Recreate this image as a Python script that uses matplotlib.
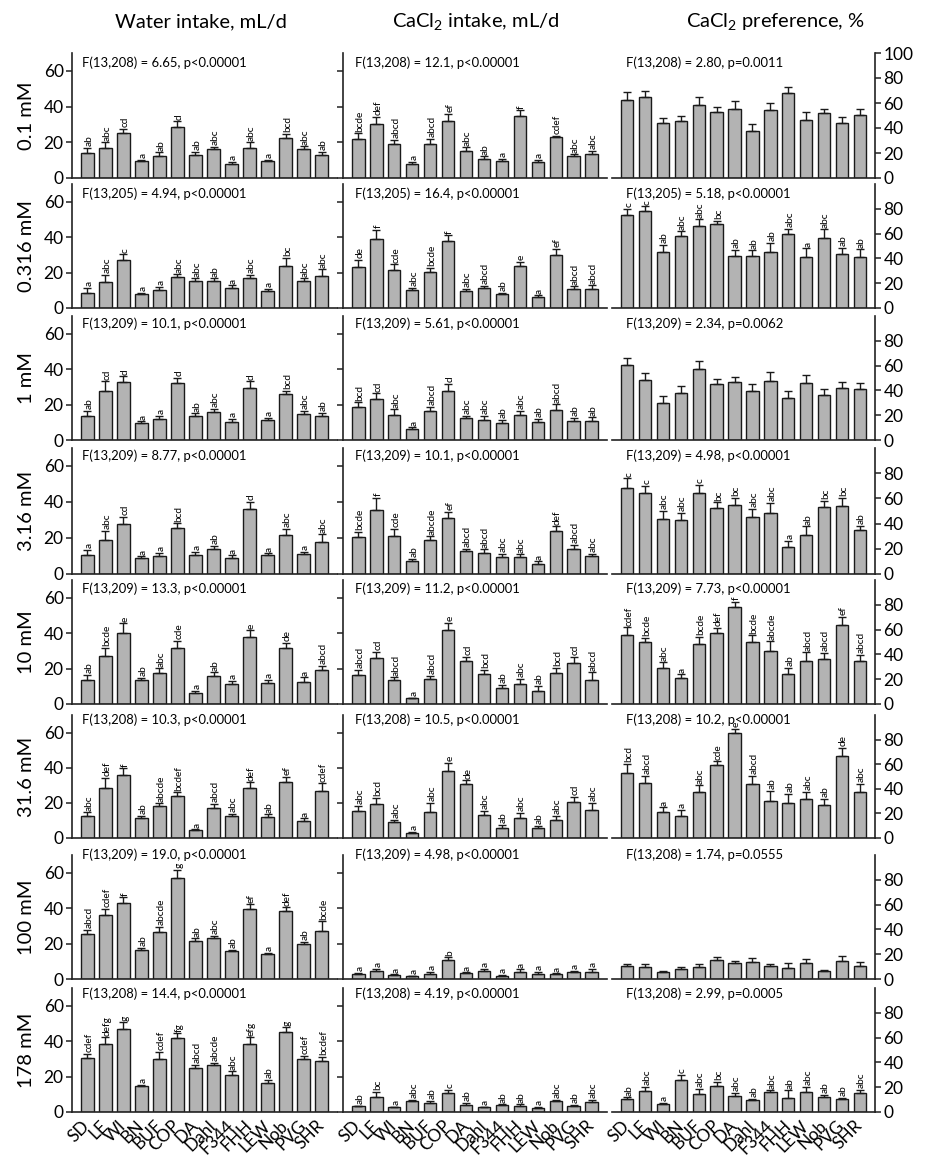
import matplotlib
matplotlib.use("Agg")
import matplotlib.pyplot as plt
import numpy as np

plt.rcParams['font.family'] = ['Lato', 'DejaVu Sans']
plt.rcParams['mathtext.fontset'] = 'custom'
plt.rcParams['mathtext.rm'] = 'Lato'
plt.rcParams['mathtext.it'] = 'Lato:italic'

strains = ["SD", "LE", "WI", "BN", "BUF", "COP", "DA", "Dahl", "F344", "FHH", "LEW", "Nob", "PVG", "SHR"]
concentrations = ["0.1 mM", "0.316 mM", "1 mM", "3.16 mM", "10 mM", "31.6 mM", "100 mM", "178 mM"]
col_titles = ["Water intake, mL/d", r"CaCl$_2$ intake, mL/d", r"CaCl$_2$ preference, %"]

# water intake, mL/d (mean, SEM), one row per concentration
water_mean = [
    [13.9, 16.9, 25.3, 9.3, 12.6, 28.3, 13.0, 16.4, 8.0, 16.7, 9.3, 22.3, 16.0, 13.0],
    [8.7, 14.9, 27.1, 7.8, 10.2, 17.7, 15.3, 15.3, 11.2, 16.8, 9.7, 23.7, 15.3, 18.1],
    [13.6, 27.4, 32.6, 9.7, 11.7, 32.0, 13.8, 16.0, 10.4, 29.4, 11.4, 25.7, 14.9, 13.8],
    [10.5, 19.1, 27.8, 9.0, 9.9, 25.7, 10.5, 13.7, 9.0, 36.0, 10.5, 21.6, 10.9, 18.0],
    [13.8, 27.3, 40.2, 13.5, 17.4, 31.4, 6.4, 15.7, 11.4, 37.6, 12.0, 31.4, 12.5, 19.3],
    [12.7, 28.4, 35.9, 11.5, 18.1, 24.0, 4.3, 16.8, 12.5, 28.4, 11.9, 31.8, 9.5, 26.5],
    [25.4, 35.9, 42.7, 16.2, 26.7, 56.8, 21.6, 23.1, 16.0, 39.3, 14.1, 38.2, 19.7, 27.3],
    [30.4, 38.3, 47.1, 14.6, 29.8, 41.5, 25.0, 26.3, 21.0, 38.3, 16.5, 45.0, 30.2, 28.9],
]
water_sem = [
    [3.0, 3.0, 2.4, 0.9, 1.7, 3.5, 1.7, 0.9, 1.1, 3.2, 0.9, 2.6, 1.7, 1.7],
    [2.5, 3.8, 3.2, 0.9, 1.7, 1.3, 1.5, 1.4, 1.6, 1.9, 1.3, 4.7, 1.5, 3.8],
    [2.8, 5.7, 3.3, 0.9, 1.9, 3.0, 1.3, 1.5, 1.5, 3.7, 1.3, 2.0, 1.7, 1.5],
    [2.8, 4.7, 3.9, 0.9, 1.9, 2.4, 1.7, 1.9, 1.3, 4.0, 0.9, 3.4, 1.5, 4.0],
    [2.5, 4.5, 5.4, 1.1, 2.8, 4.1, 0.9, 2.1, 1.7, 3.9, 1.5, 3.0, 2.5, 2.2],
    [2.0, 6.0, 3.8, 1.0, 1.7, 1.9, 0.6, 2.5, 1.3, 3.2, 1.5, 3.2, 1.7, 4.7],
    [2.2, 3.8, 3.4, 1.5, 2.8, 4.7, 1.3, 1.1, 0.5, 2.8, 0.7, 2.2, 1.4, 5.2],
    [2.4, 3.9, 3.6, 0.6, 4.2, 3.0, 1.5, 1.3, 1.9, 3.9, 1.5, 2.8, 1.5, 2.2],
]
water_groups = [
    "ab abc cd a ab d ab abc a abc a bcd abc ab",
    "a abc c a a abc abc ab a abc a bc abc abc",
    "ab cd d a a d ab abc a d a bcd abc ab",
    "a abc cd a a bcd a ab a d a abc a abc",
    "ab bcde e ab abc cde a ab a e a de a abcd",
    "abc def f ab abcde bcdef a abcd abc def ab ef a cdef",
    "abcd cdef f ab abcde g ab abc ab ef a def ab bcde",
    "cdef defg g a cdef fg abcd abcde abc efg ab g cdef bcdef",
]
water_stats = [
    "F(13,208) = 6.65, p<0.00001", "F(13,205) = 4.94, p<0.00001",
    "F(13,209) = 10.1, p<0.00001", "F(13,209) = 8.77, p<0.00001",
    "F(13,209) = 13.3, p<0.00001", "F(13,208) = 10.3, p<0.00001",
    "F(13,209) = 19.0, p<0.00001", "F(13,208) = 14.4, p<0.00001",
]

# CaCl2 intake, mL/d
cacl_mean = [
    [22.1, 30.2, 19.3, 8.1, 18.8, 31.7, 15.4, 10.7, 9.8, 34.5, 8.8, 22.9, 12.2, 13.5],
    [23.4, 38.8, 21.3, 10.0, 20.5, 37.6, 9.7, 11.2, 7.8, 23.7, 6.3, 29.7, 11.0, 11.0],
    [18.7, 23.0, 14.3, 6.2, 16.4, 27.7, 12.6, 11.5, 9.6, 14.2, 10.0, 17.0, 10.8, 10.9],
    [20.8, 35.6, 21.2, 7.3, 18.8, 31.0, 12.6, 11.8, 9.6, 9.2, 5.4, 23.8, 14.1, 9.8],
    [16.4, 25.7, 13.4, 3.2, 14.0, 41.5, 24.3, 16.8, 8.9, 11.5, 7.5, 17.4, 23.0, 13.8],
    [15.4, 19.5, 9.0, 2.8, 15.0, 38.0, 31.0, 13.3, 5.6, 11.3, 5.6, 10.5, 20.3, 16.0],
    [3.0, 4.5, 2.3, 1.5, 3.0, 10.6, 3.4, 4.5, 1.9, 4.2, 2.8, 2.6, 3.8, 4.2],
    [3.2, 8.3, 2.6, 6.0, 5.1, 10.9, 4.0, 2.6, 3.8, 3.4, 2.5, 6.0, 3.4, 5.5],
]
cacl_sem = [
    [2.9, 4.1, 1.9, 1.1, 3.1, 4.3, 1.7, 1.5, 1.1, 3.4, 1.5, 0.9, 1.1, 1.9],
    [3.7, 5.2, 3.4, 1.2, 2.3, 3.4, 1.3, 1.3, 0.9, 2.3, 0.9, 3.8, 1.3, 1.8],
    [2.6, 3.4, 3.1, 1.0, 2.3, 4.0, 1.2, 2.1, 1.7, 2.4, 1.9, 3.2, 1.8, 1.9],
    [2.5, 6.6, 3.8, 1.3, 2.2, 3.7, 1.3, 1.9, 1.7, 1.7, 1.7, 2.7, 2.2, 1.5],
    [3.0, 3.7, 1.7, 0.4, 1.8, 4.5, 2.3, 2.6, 1.9, 2.7, 2.7, 3.2, 3.8, 4.1],
    [3.0, 3.2, 1.5, 0.6, 5.1, 4.9, 1.9, 2.3, 1.9, 3.0, 1.4, 2.3, 3.0, 3.9],
    [0.6, 1.2, 0.3, 0.2, 1.2, 1.7, 0.4, 1.3, 0.4, 1.3, 1.2, 0.6, 0.9, 1.6],
    [0.4, 3.0, 0.4, 1.0, 1.3, 1.7, 1.1, 0.4, 0.5, 0.9, 0.3, 0.8, 0.6, 1.5],
]
cacl_groups = [
    "bcde def abcd a abcd ef abc ab a f a cdef abc abc",
    "de f cde abc bcde f abc abcd ab e a ef abcd abcd",
    "bcd cd abc a abcd d abc abc ab abc ab abcd ab ab",
    "bcde f cde ab abcde ef abcd abcd abc abc a def abcd abc",
    "abcd cd abcd a abcd e cd bcd ab abc ab bcd cd abcd",
    "abc bcd abc a abc e de abc ab abc ab abc cd abc",
    "a a a a a b a a a a a a a a",
    "ab bc a abc ab c ab a ab ab a abc ab abc",
]
cacl_stats = [
    "F(13,208) = 12.1, p<0.00001", "F(13,205) = 16.4, p<0.00001",
    "F(13,209) = 5.61, p<0.00001", "F(13,209) = 10.1, p<0.00001",
    "F(13,209) = 11.2, p<0.00001", "F(13,208) = 10.5, p<0.00001",
    "F(13,209) = 4.98, p<0.00001", "F(13,208) = 4.19, p<0.00001",
]

# CaCl2 preference, %
pref_mean = [
    [62.7, 64.8, 44.3, 45.6, 58.4, 52.5, 55.2, 37.9, 54.7, 68.3, 46.7, 51.7, 43.7, 50.4],
    [74.7, 77.9, 45.1, 57.9, 66.4, 67.5, 41.9, 41.9, 45.3, 59.5, 41.1, 56.8, 43.5, 41.3],
    [60.3, 48.5, 30.0, 38.1, 57.6, 45.0, 46.9, 39.9, 47.7, 33.5, 46.1, 36.2, 41.6, 41.0],
    [68.6, 64.0, 43.7, 43.2, 64.0, 52.3, 54.9, 45.6, 48.8, 21.6, 31.2, 52.8, 53.6, 35.2],
    [56.0, 49.7, 29.2, 20.8, 48.1, 57.4, 78.1, 50.0, 42.6, 23.8, 35.0, 36.1, 63.7, 35.0],
    [53.0, 44.6, 21.1, 17.6, 37.6, 59.5, 85.7, 44.1, 30.0, 28.6, 31.9, 26.5, 66.5, 37.0],
    [10.5, 9.7, 5.7, 8.1, 9.7, 15.4, 13.2, 13.8, 10.5, 9.2, 12.7, 6.8, 14.9, 10.3],
    [10.5, 16.7, 6.5, 25.8, 14.8, 21.2, 13.2, 9.7, 16.1, 11.3, 16.4, 11.8, 10.2, 15.1],
]
pref_sem = [
    [6.1, 4.8, 4.0, 4.3, 6.1, 4.3, 6.1, 5.3, 5.3, 4.8, 6.1, 3.5, 5.4, 4.8],
    [5.3, 4.2, 5.6, 4.0, 5.1, 2.9, 4.8, 4.5, 7.5, 4.5, 6.9, 6.7, 5.0, 5.9],
    [5.9, 5.7, 5.7, 5.1, 6.2, 4.1, 4.3, 5.1, 7.3, 5.9, 6.7, 4.6, 5.3, 5.1],
    [7.2, 6.1, 6.4, 5.1, 6.9, 4.5, 5.4, 5.9, 7.5, 4.5, 6.7, 5.3, 6.7, 2.9],
    [5.7, 3.9, 4.4, 3.2, 6.0, 4.1, 4.4, 5.5, 7.9, 5.2, 6.8, 5.2, 6.8, 4.9],
    [7.3, 6.2, 3.8, 5.4, 5.1, 2.9, 2.9, 6.4, 8.4, 7.1, 5.9, 5.1, 7.0, 6.8],
    [1.7, 2.5, 1.1, 1.9, 2.5, 2.2, 1.7, 3.0, 1.7, 3.5, 3.5, 0.8, 3.7, 3.2],
    [1.3, 3.7, 1.0, 4.0, 3.7, 3.3, 2.1, 1.1, 1.4, 6.2, 3.8, 2.2, 1.1, 2.9],
]
pref_groups = [
    None,
    "c c ab abc abc bc ab ab ab abc a abc ab ab",
    None,
    "c c abc abc c bc bc abc abc a ab bc bc ab",
    "cdef bcde abc a bcde def f bcde abcde ab abcd abcd ef abcd",
    "bcd abcd a a abc cde e abcd ab ab abc ab de abc",
    None,
    "ab abc a c abc bc abc ab abc ab abc ab ab abc",
]
pref_stats = [
    "F(13,208) = 2.80, p=0.0011", "F(13,205) = 5.18, p<0.00001",
    "F(13,209) = 2.34, p=0.0062", "F(13,209) = 4.98, p<0.00001",
    "F(13,209) = 7.73, p<0.00001", "F(13,208) = 10.2, p<0.00001",
    "F(13,208) = 1.74, p=0.0555", "F(13,208) = 2.99, p=0.0005",
]

# layout in pixels of the 927x1156 canvas
W, H = 927, 1156
col_px = [(72, 337), (343, 607), (612, 875)]
row_px = [(53, 178), (184, 308), (316, 440), (448, 574),
          (580, 704), (715, 838), (855, 979), (988, 1112)]
stat_x_px = [82, 355, 626]
stat_y_px = [63, 194, 324, 456, 589, 720, 855, 994]
title_x_px = [201, 476, 775]

BAR_COLOR = '#b3b3b3'
EDGE = '#1a1a1a'


def draw_panel(ax, means, sems, groups, col, first_row, bottom_row):
    x = np.arange(len(strains))
    means = np.asarray(means)
    sems = np.asarray(sems)
    ax.bar(x, means, width=0.7, color=BAR_COLOR, edgecolor=EDGE, linewidth=1.0, zorder=2)
    ax.errorbar(x, means, yerr=[np.zeros_like(sems), sems], fmt='none', ecolor=EDGE,
                elinewidth=1.0, capsize=2.6, capthick=1.0, zorder=3)
    if groups:
        for xi, top, g in zip(x, means + sems, groups.split()):
            ax.annotate(g, (xi, top), xytext=(1.2, 1.2), textcoords='offset points',
                        rotation=90, ha='center', va='bottom', fontsize=7.3)

    ax.set_xlim(-0.85, 13.85)
    if col < 2:
        ax.set_ylim(0, 70)
        ax.set_yticks([0, 20, 40, 60])
        ax.spines['right'].set_visible(False)
    else:
        ax.set_ylim(0, 100)
        ax.set_yticks([0, 20, 40, 60, 80, 100] if first_row else [0, 20, 40, 60, 80])
        ax.spines['left'].set_visible(False)
        ax.yaxis.tick_right()
    ax.spines['top'].set_visible(False)
    for s in ax.spines.values():
        s.set_linewidth(1.2)
        s.set_color('#222222')
    ax.tick_params(axis='y', direction='out', length=4, width=1.1, labelsize=12.5,
                   color='#222222', pad=2)
    if col == 1:
        ax.tick_params(axis='y', labelleft=False)
    ax.tick_params(axis='x', length=0)
    if bottom_row:
        ax.set_xticks(x)
        ax.set_xticklabels(strains, rotation=45, ha='right', va='center',
                           rotation_mode='anchor', fontsize=12.5)
        ax.tick_params(axis='x', pad=8)
    else:
        ax.set_xticks([])


fig = plt.figure(figsize=(W / 100, H / 100), dpi=100)

columns = [(water_mean, water_sem, water_groups, water_stats),
           (cacl_mean, cacl_sem, cacl_groups, cacl_stats),
           (pref_mean, pref_sem, pref_groups, pref_stats)]

n_rows = len(concentrations)
for col, (means, sems, groups, stats) in enumerate(columns):
    x0, x1 = col_px[col]
    for row in range(n_rows):
        y0, y1 = row_px[row]
        ax = fig.add_axes([x0 / W, 1 - y1 / H, (x1 - x0) / W, (y1 - y0) / H])
        draw_panel(ax, means[row], sems[row], groups[row], col, row == 0, row == n_rows - 1)
        fig.text(stat_x_px[col] / W, 1 - stat_y_px[row] / H, stats[row],
                 ha='left', va='center', fontsize=9.4)
    fig.text(title_x_px[col] / W, 1 - 22 / H, col_titles[col],
             ha='center', va='center', fontsize=14.5)

for row, conc in enumerate(concentrations):
    y0, y1 = row_px[row]
    fig.text(27 / W, 1 - (y0 + y1) / 2 / H, conc, rotation=90,
             ha='center', va='center', fontsize=14.5)

fig.savefig("out.png", dpi=100)
